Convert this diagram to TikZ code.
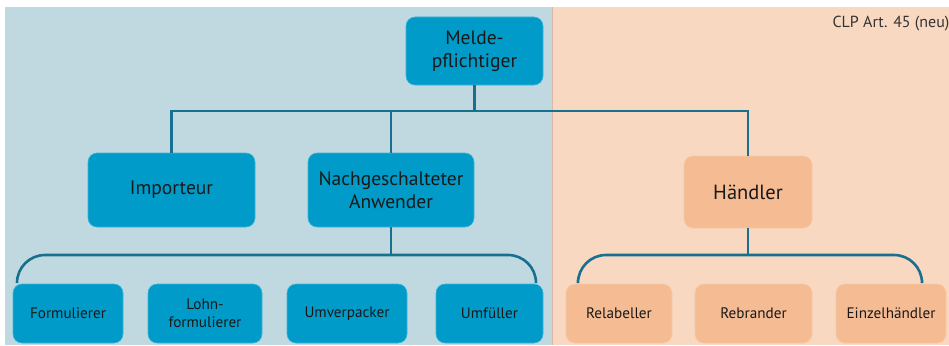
\documentclass[tikz,border=0pt]{standalone}
\usepackage{fontspec}
\setmainfont{PT Sans}
\definecolor{panelblue}{HTML}{C0D9E0}
\definecolor{panelorange}{HTML}{F8D8C1}
\definecolor{boxblue}{HTML}{009BC9}
\definecolor{boxorange}{HTML}{F5BB93}
\definecolor{linkteal}{HTML}{17708F}
\definecolor{divider}{HTML}{D9B9A5}
\begin{document}
\begin{tikzpicture}[x=1pt,y=-1pt,
  box/.style={rounded corners=9pt, inner sep=0pt, align=center, text=black!90, line width=0.6pt},
  bluebox/.style={box, fill=boxblue, draw=boxblue!75!white},
  orangebox/.style={box, fill=boxorange, draw=boxorange!80!white},
  big/.style={font=\fontsize{19.5}{23}\selectfont},
  small/.style={font=\fontsize{15.2}{18}\selectfont, minimum height=59pt},
  conn/.style={draw=linkteal, line width=2.6pt},
  bracket/.style={conn, rounded corners=28pt}]
\useasboundingbox (0,0) rectangle (949,345);
% background panels
\fill[white] (0,0) rectangle (949,345);
\fill[panelblue] (5,7) rectangle (552,345);
\fill[panelorange] (552,7) rectangle (949,345);
\draw[divider, line width=0.6pt] (552,7) -- (552,345);
\node[anchor=base west, font=\fontsize{16}{18}\selectfont, text=black!80] (clp) at (829,28) {CLP Art. 45 (neu)};

% top level
\node[bluebox, big, minimum width=137pt, minimum height=68pt] (melde) at (474.5,51) {Melde-\\pflichtiger};

% second level
\node[bluebox, big, minimum width=167pt, minimum height=74pt] (imp) at (171.5,190) {Importeur};
\node[bluebox, big, minimum width=166pt, minimum height=74pt] (nach) at (391,190) {Nachgeschalteter\\Anwender};
\node[orangebox, font=\fontsize{20.5}{24}\selectfont, minimum width=128pt, minimum height=72pt] (haend) at (748,192) {Händler};

% third level
\node[bluebox, small, minimum width=110pt] (form) at (68,313.5) {Formulierer};
\node[bluebox, small, minimum width=114pt] (lohn) at (205,313.5) {Lohn-\\formulierer};
\node[bluebox, small, minimum width=120pt] (umv) at (347,313.5) {Umverpacker};
\node[bluebox, small, minimum width=107pt] (umf) at (489.5,313.5) {Umfüller};
\node[orangebox, small, minimum width=106pt] (rel) at (619,313.5) {Relabeller};
\node[orangebox, small, minimum width=117pt] (reb) at (753.5,313.5) {Rebrander};
\node[orangebox, small, minimum width=110pt] (einz) at (891,313.5) {Einzelhändler};

% upper connectors
\coordinate (busT) at (melde.south |- 0,111);
\draw[conn] (melde.south) -- (busT);
\draw[conn] (imp.north) -- (imp.north |- busT) -- (haend.north |- busT) -- (haend.north);
\draw[conn] (nach.north) -- (nach.north |- busT);

% lower brackets
\coordinate (lbL) at (17,282);
\coordinate (lbR) at (536,282);
\coordinate (rbL) at (578,280);
\coordinate (rbR) at (922,280);
\draw[bracket] (lbL) -- (lbL |- 0,255) -- (lbR |- 0,255) -- (lbR);
\draw[conn] (nach.south) -- (nach.south |- 0,255);
\draw[bracket] (rbL) -- (rbL |- 0,255) -- (rbR |- 0,255) -- (rbR);
\draw[conn] (haend.south) -- (haend.south |- 0,255);
\end{tikzpicture}
\end{document}
